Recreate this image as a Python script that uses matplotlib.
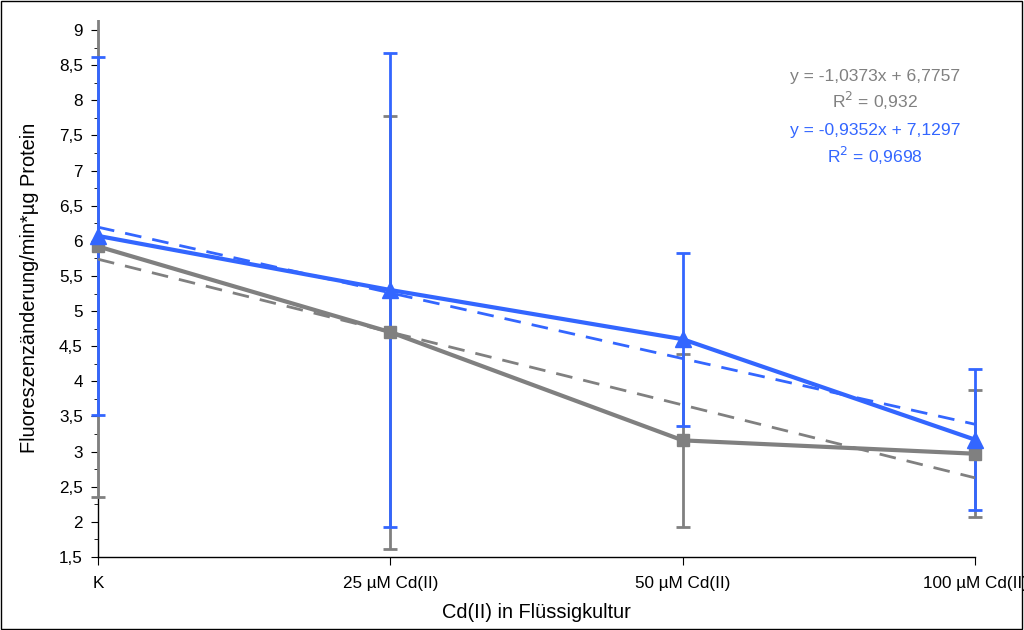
import numpy as np
import matplotlib.pyplot as plt
from matplotlib.patches import Rectangle
from matplotlib.ticker import MultipleLocator, FuncFormatter

plt.rcParams['font.family'] = ['Liberation Sans', 'DejaVu Sans']

categories = ['K', '25 µM Cd(II)', '50 µM Cd(II)', '100 µM Cd(II)']

# gray series (squares)
gray_vals = [5.92, 4.70, 3.16, 2.97]
gray_err = [3.57, 3.08, 1.23, 0.90]
gray_slope, gray_icpt, gray_r2 = -1.0373, 6.7757, '0,932'

# blue series (triangles)
blue_vals = [6.07, 5.30, 4.60, 3.17]
blue_err = [2.55, 3.38, 1.23, 1.00]
blue_slope, blue_icpt, blue_r2 = -0.9352, 7.1297, '0,9698'

GRAY = '#808080'
BLUE = '#3366ff'

fig = plt.figure(figsize=(10.24, 6.30), dpi=100)
ax = fig.add_axes([98 / 1024, 1 - 557 / 630, 877 / 1024, 537.5 / 630])

# clip only vertically, so marks at the first/last category stay whole
clip = Rectangle((-0.05, 0), 1.1, 1, transform=ax.transAxes)

x = np.arange(1, len(categories) + 1)


def clipped(artists):
    for a in artists:
        a.set_clip_on(True)
        a.set_clip_path(clip)


eb = ax.errorbar(x, gray_vals, yerr=gray_err, fmt='none', ecolor=GRAY,
                 elinewidth=2, capsize=5, capthick=2, zorder=3)
clipped(eb.get_children())
eb = ax.errorbar(x, blue_vals, yerr=blue_err, fmt='none', ecolor=BLUE,
                 elinewidth=2, capsize=5, capthick=2, zorder=3.5)
clipped(eb.get_children())

clipped(ax.plot(x, gray_slope * x + gray_icpt, color=GRAY, lw=2, ls=(0, (6, 4)), zorder=4))
clipped(ax.plot(x, blue_slope * x + blue_icpt, color=BLUE, lw=2, ls=(0, (6, 4)), zorder=4))

clipped(ax.plot(x, gray_vals, color=GRAY, lw=3, marker='s', ms=8, zorder=5))
clipped(ax.plot(x, blue_vals, color=BLUE, lw=3, marker='^', ms=11, zorder=6))

ax.set_xlim(1, 4)
ax.set_ylim(1.5, 9.15)
ax.spines['left'].set_bounds(1.5, 9)
ax.spines['top'].set_visible(False)
ax.spines['right'].set_visible(False)
for s in ('left', 'bottom'):
    ax.spines[s].set_linewidth(1)

ax.set_xticks(x)
ax.set_xticklabels(categories, fontsize=12.3)
ax.set_yticks(np.arange(1.5, 9.01, 0.5))
ax.yaxis.set_minor_locator(MultipleLocator(0.25))
ax.yaxis.set_major_formatter(FuncFormatter(lambda v, p: ('%g' % v).replace('.', ',')))
ax.tick_params(axis='y', which='major', length=5, labelsize=12.3, pad=6)
ax.tick_params(axis='y', which='minor', length=3)
ax.tick_params(axis='x', length=6, pad=8)

ax.set_xlabel('Cd(II) in Flüssigkultur', fontsize=14.4, labelpad=8)
ax.set_ylabel('Fluoreszenzänderung/min*µg Protein', fontsize=14.4, labelpad=14)


def eq_text(slope, icpt):
    return ('y = %.4fx + %.4f' % (slope, icpt)).replace('.', ',')


for txt, ypx, col in [(eq_text(gray_slope, gray_icpt), 77, GRAY),
                      ('R$^2$ = ' + gray_r2, 101, GRAY),
                      (eq_text(blue_slope, blue_icpt), 131, BLUE),
                      ('R$^2$ = ' + blue_r2, 156, BLUE)]:
    fig.text(875 / 1024, 1 - ypx / 630, txt, ha='center', va='center',
             color=col, fontsize=12.6)

fig.patches.append(Rectangle((0.001, 0.001), 0.997, 0.997, transform=fig.transFigure,
                             fill=False, edgecolor='black', lw=1))

fig.savefig('out.png', dpi=100)
